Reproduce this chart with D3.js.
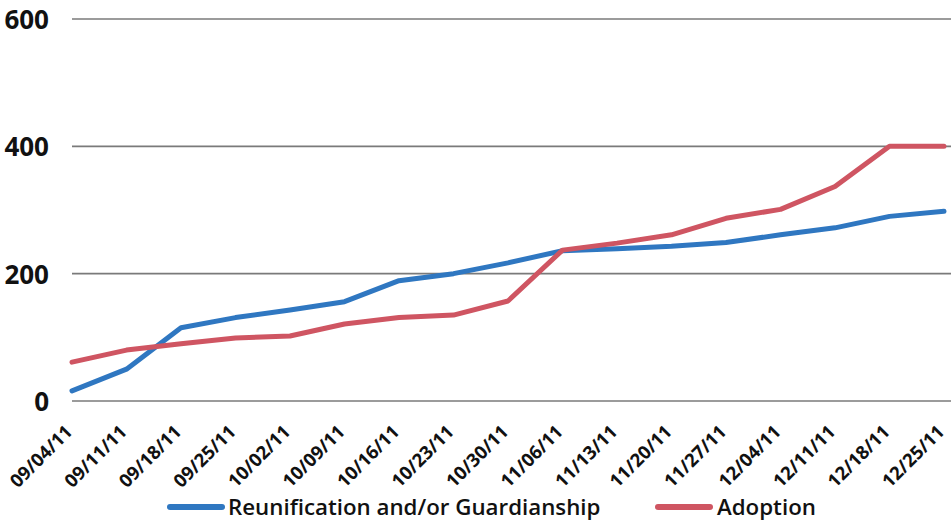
<!DOCTYPE html>
<html><head><meta charset="utf-8">
<script src="https://cdn.jsdelivr.net/npm/d3@7"></script>
<style>body{margin:0;background:#fff;} svg{display:block;}</style>
</head><body>
<svg id="c" width="951" height="527"></svg>
<script>
const dates = ["09/04/11","09/11/11","09/18/11","09/25/11","10/02/11","10/09/11","10/16/11","10/23/11","10/30/11","11/06/11","11/13/11","11/20/11","11/27/11","12/04/11","12/11/11","12/18/11","12/25/11"];
const reunification = [16,50,115,131,143,156,189,200,217,236,239,243,249,261,272,290,298];
const adoption = [61,80,90,99,102,121,131,135,157,237,248,261,287,301,337,400,400];
const yTicks = [0,200,400,600];
const seriesNames = ["Reunification and/or Guardianship","Adoption"];
const colors = ["#2f77c1","#cf5562"];

const svg = d3.select("#c");
const m = {l:72, r:944, t:19, b:401};
const x = d3.scalePoint().domain(dates).range([m.l, m.r]);
const y = d3.scaleLinear().domain([0,600]).range([m.b, m.t]);

// gridlines
svg.append("g").selectAll("line").data(yTicks).join("line")
  .attr("x1", m.l).attr("x2", 951).attr("y1", d=>y(d)).attr("y2", d=>y(d))
  .attr("stroke","#7a7a7a").attr("stroke-width",1.6);

// y labels
const yAxis = d3.axisLeft(y).tickValues(yTicks).tickSize(0).tickPadding(0);
const ya = svg.append("g").attr("transform","translate(49,0)").call(yAxis);
ya.select(".domain").remove();
ya.selectAll("text").attr("font-family","Open Sans").attr("font-weight","700")
  .attr("font-size",26).attr("fill","#111").attr("dy","0.36em");

// x labels
const xAxis = d3.axisBottom(x).tickSize(0).tickPadding(0);
const xa = svg.append("g").attr("transform",`translate(0,${m.b})`).call(xAxis);
xa.select(".domain").remove();
xa.selectAll("text").attr("font-family","Open Sans").attr("font-weight","700")
  .attr("font-size",18.5).attr("fill","#111").attr("text-anchor","end")
  .attr("dy",null).attr("y",0)
  .attr("transform","translate(1,32) rotate(-45)");

// lines
const line = d3.line().x((d,i)=>x(dates[i])).y(d=>y(d));
[reunification, adoption].forEach((s,k)=>{
  svg.append("path").datum(s).attr("d",line).attr("fill","none")
    .attr("stroke",colors[k]).attr("stroke-width",5).attr("stroke-linejoin","round").attr("stroke-linecap","round");
});

// legend
const leg = [{x:170, tx:228}, {x:658, tx:717}];
seriesNames.forEach((n,k)=>{
  svg.append("line").attr("x1",leg[k].x).attr("x2",leg[k].x+52).attr("y1",507).attr("y2",507)
    .attr("stroke",colors[k]).attr("stroke-width",6).attr("stroke-linecap","round");
  svg.append("text").attr("x",leg[k].tx).attr("y",507).attr("dy","0.35em")
    .attr("font-family","Open Sans").attr("font-weight","600").attr("font-size",22.3).attr("fill","#111").text(n);
});
</script>
</body></html>
